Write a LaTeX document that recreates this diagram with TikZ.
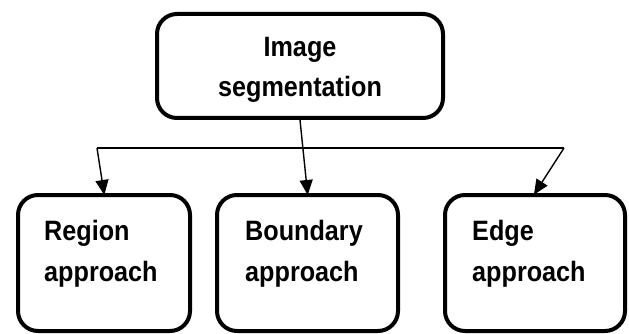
\documentclass[tikz,border=0pt]{standalone}
\usepackage{fontspec}
\setmainfont{Liberation Sans}[FakeStretch=0.9]
\usetikzlibrary{arrows.meta}
\begin{document}
\begin{tikzpicture}[x=1pt,y=-1pt,
  box/.style={draw=black,line width=4pt,rounded corners=20pt,fill=white,inner sep=0pt},
  label/.style={align=left,anchor=base west,inner sep=0pt,
    font=\bfseries\fontsize{28}{41}\selectfont},
  toplabel/.style={align=center,anchor=base,inner sep=0pt,
    font=\bfseries\fontsize{28}{40}\selectfont},
  link/.style={line width=1.4pt,draw=black},
  arrow/.style={link,-{Triangle[length=15pt,width=13pt]},shorten >=-2pt}]
\useasboundingbox (0,0) rectangle (629,334);

% top box
\node[box,minimum width=286pt,minimum height=104pt] (top) at (300,66) {};
\node[toplabel] (toptext) at (300,97) {Image\\segmentation};

% three approach boxes
\node[box,minimum width=172pt,minimum height=136pt] (region) at (104,263) {};
\node[box,minimum width=181pt,minimum height=136pt] (boundary) at (307.5,263) {};
\node[box,minimum width=180pt,minimum height=136pt] (edge) at (535,263) {};

\node[label] (regiontext) at (44,281) {Region\\approach};
\node[label] (boundarytext) at (245,281) {Boundary\\approach};
\node[label] (edgetext) at (472,281) {Edge\\approach};

% connectors
\coordinate (jl) at (97,148);
\coordinate (jr) at (564,148);
\draw[link] (jl) -- (jr);
\draw[arrow] (jl) -- (region.north);
\draw[arrow] (top.south) -- (boundary.north);
\draw[arrow] (jr) -- (edge.north);
\end{tikzpicture}
\end{document}
